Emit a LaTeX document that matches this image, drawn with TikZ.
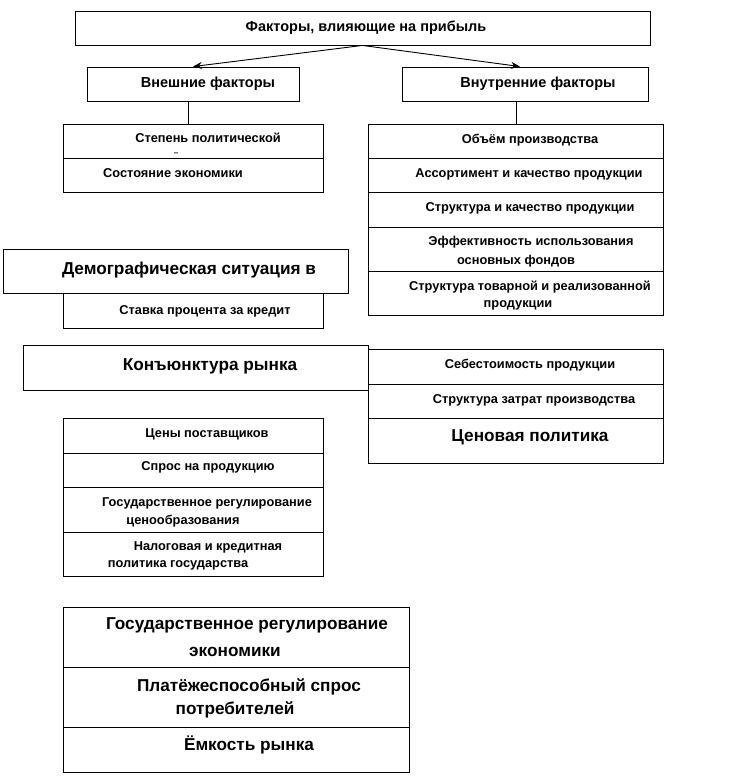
\documentclass[tikz,border=0pt]{standalone}
\usepackage{fontspec}
\setmainfont{Liberation Sans}
\usetikzlibrary{arrows.meta,positioning,calc}

\tikzset{
    cell/.style={draw, line width=0.9pt, minimum width=#1, inner sep=0pt},
    smalltext/.style={inner sep=0pt, font=\fontsize{12.8}{14}\selectfont\bfseries},
    headtext/.style={inner sep=0pt, font=\fontsize{14.5}{16}\selectfont\bfseries},
    bigtext/.style={inner sep=0pt, font=\fontsize{17.2}{20}\selectfont\bfseries},
    link/.style={line width=0.8pt},
    arrowlink/.style={line width=0.9pt, -{Stealth[length=9pt, width=7pt]}}
}

\begin{document}
\begin{tikzpicture}[x=1pt, y=-1pt]
    \useasboundingbox (0,0) rectangle (729,783);

    % Top level
    \node[cell=575pt, minimum height=34pt] (profit) at (362.5,28) {};
    \node[headtext] (profit-t) at (366,28) {Факторы, влияющие на прибыль};

    % Two branches
    \node[cell=212pt, minimum height=34pt] (ext) at (193,84) {};
    \node[headtext] (ext-t) at (208,84) {Внешние факторы};
    \node[cell=246pt, minimum height=34pt] (int) at (525,84) {};
    \node[headtext] (int-t) at (538,84) {Внутренние факторы};

    \draw[arrowlink] (profit.south) -- (ext.north);
    \draw[arrowlink] (profit.south) -- ($(int.north)+(-5,0)$);

    % External factors, first block
    \node[cell=260pt, minimum height=34pt] (polit) at (193,141) {};
    \node[smalltext] (polit-t) at (208,138) {Степень политической};
    \node[inner sep=0pt, font=\fontsize{8}{8}\selectfont\bfseries] (polit-d) at (176,154) {–};
    \node[cell=260pt, minimum height=34pt] (econ) at (193,175) {};
    \node[smalltext] (econ-t) at (173,173) {Состояние экономики};

    \draw[link] ($(ext.south)+(-5,0)$) -- ($(polit.north)+(-5,0)$);

    % Demography and credit rate
    \node[cell=260pt, minimum height=35pt] (rate) at (193,310.5) {};
    \node[smalltext] (rate-t) at (205,311) {Ставка процента за кредит};
    \node[cell=345pt, minimum height=44pt, fill=white] (demo) at (175.5,271) {};
    \node[bigtext] (demo-t) at (189,270) {Демографическая ситуация в};

    % Market conditions
    \node[cell=345pt, minimum height=45pt] (konj) at (195.5,367.5) {};
    \node[bigtext] (konj-t) at (210,366) {Конъюнктура рынка};

    % Internal factors, first block
    \node[cell=295pt, minimum height=34pt] (vol) at (515.5,141) {};
    \node[smalltext] (vol-t) at (530,140) {Объём производства};
    \node[cell=295pt, minimum height=34pt] (assort) at (515.5,175) {};
    \node[smalltext] (assort-t) at (529,174) {Ассортимент и качество продукции};
    \node[cell=295pt, minimum height=35pt] (struct) at (515.5,209.5) {};
    \node[smalltext] (struct-t) at (530,208) {Структура и качество продукции};
    \node[cell=295pt, minimum height=44pt] (eff) at (515.5,249) {};
    \node[smalltext] (eff-t1) at (531,242) {Эффективность использования};
    \node[smalltext] (eff-t2) at (516,261) {основных фондов};
    \node[cell=295pt, minimum height=44pt] (goods) at (515.5,293) {};
    \node[smalltext] (goods-t1) at (530,287) {Структура товарной и реализованной};
    \node[smalltext] (goods-t2) at (518,305) {продукции};

    \draw[link] ($(int.south)+(-9,0)$) -- ($(vol.north)+(0.5,0)$);

    % Internal factors, second block
    \node[cell=295pt, minimum height=35pt] (cost) at (515.5,366.5) {};
    \node[smalltext] (cost-t) at (530,365) {Себестоимость продукции};
    \node[cell=295pt, minimum height=34pt] (costs) at (515.5,401) {};
    \node[smalltext] (costs-t) at (534,400) {Структура затрат производства};
    \node[cell=295pt, minimum height=45pt] (price) at (515.5,440.5) {};
    \node[bigtext] (price-t) at (530,437) {Ценовая политика};

    % External factors, second block
    \node[cell=260pt, minimum height=35pt] (supp) at (193,435.5) {};
    \node[smalltext] (supp-t) at (207,434) {Цены поставщиков};
    \node[cell=260pt, minimum height=34pt] (demand) at (193,470) {};
    \node[smalltext] (demand-t) at (208,467) {Спрос на продукцию};
    \node[cell=260pt, minimum height=45pt] (reg) at (193,509.5) {};
    \node[smalltext] (reg-t1) at (207,503) {Государственное регулирование};
    \node[smalltext] (reg-t2) at (183,521) {ценообразования};
    \node[cell=260pt, minimum height=44pt] (tax) at (193,554) {};
    \node[smalltext] (tax-t1) at (208,547) {Налоговая и кредитная};
    \node[smalltext] (tax-t2) at (178,565) {политика государства};

    % Bottom block
    \node[cell=346pt, minimum height=60pt] (gov) at (236,637) {};
    \node[bigtext] (gov-t1) at (247,625) {Государственное регулирование};
    \node[bigtext] (gov-t2) at (235,652) {экономики};
    \node[cell=346pt, minimum height=60pt] (pay) at (236,697) {};
    \node[bigtext] (pay-t1) at (249,687) {Платёжеспособный спрос};
    \node[bigtext] (pay-t2) at (235,710) {потребителей};
    \node[cell=346pt, minimum height=45pt] (cap) at (236,749.5) {};
    \node[bigtext] (cap-t) at (249,745) {Ёмкость рынка};
\end{tikzpicture}
\end{document}
